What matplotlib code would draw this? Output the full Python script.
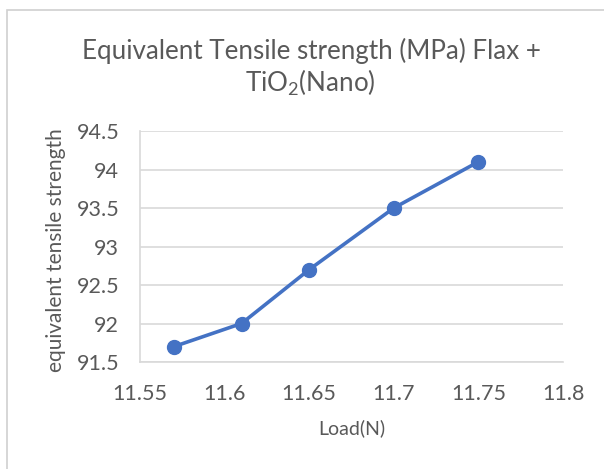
import matplotlib
matplotlib.use("Agg")
import matplotlib.pyplot as plt
from matplotlib.patches import Rectangle

# Data
load_n = [11.57, 11.61, 11.65, 11.70, 11.75]
strength = [91.7, 92.0, 92.7, 93.5, 94.1]
x_ticks = [11.55, 11.6, 11.65, 11.7, 11.75, 11.8]
x_tick_labels = ["11.55", "11.6", "11.65", "11.7", "11.75", "11.8"]
y_ticks = [91.5, 92, 92.5, 93, 93.5, 94, 94.5]
y_tick_labels = ["91.5", "92", "92.5", "93", "93.5", "94", "94.5"]

W, H = 604, 469
FONT = ["Lato", "DejaVu Sans"]
TEXT_GRAY = "#595959"
GRID_GRAY = "#d9d9d9"
BLUE = "#4472C4"

fig = plt.figure(figsize=(W / 100, H / 100), dpi=100)
fig.patch.set_facecolor("white")

def fx(px):
    return px / W

def fy(py):
    return 1 - py / H

# Chart area border
fig.patches.append(Rectangle((fx(7), fy(520)), fx(700), fy(10) - fy(520),
                             transform=fig.transFigure, fill=False,
                             edgecolor="#d0d0d0", linewidth=1.2))

# Clipped caption line above the chart
fig.text(fx(62), fy(-6), "(Flax + TiO2 Epoxy),", family=["Liberation Serif"],
         fontweight="bold", fontsize=14, color="black", va="baseline", ha="left")

ax = fig.add_axes([fx(140), fy(362), fx(563) - fx(140), fy(131) - fy(362)])
ax.plot(load_n, strength, color=BLUE, linewidth=2.6, marker="o",
        markersize=10, markerfacecolor=BLUE, markeredgecolor=BLUE,
        solid_capstyle="round", clip_on=False, zorder=3)

ax.set_xlim(x_ticks[0], x_ticks[-1])
ax.set_ylim(y_ticks[0], y_ticks[-1])
ax.set_xticks(x_ticks)
ax.set_xticklabels(x_tick_labels)
ax.set_yticks(y_ticks)
ax.set_yticklabels(y_tick_labels)
ax.tick_params(axis="both", length=0, labelsize=15.5, labelcolor=TEXT_GRAY)
ax.tick_params(axis="x", pad=16)
ax.tick_params(axis="y", pad=15)
for lab in ax.get_xticklabels() + ax.get_yticklabels():
    lab.set_family(FONT)

ax.grid(axis="y", color=GRID_GRAY, linewidth=1.2)
ax.set_axisbelow(True)
for side in ("top", "right"):
    ax.spines[side].set_visible(False)
for side in ("left", "bottom"):
    ax.spines[side].set_color(GRID_GRAY)
    ax.spines[side].set_linewidth(1.2)

# Axis titles
fig.text(fx(352), fy(428), "Load(N)", family=FONT, fontsize=14,
         color=TEXT_GRAY, ha="center", va="center")
fig.text(fx(56), fy(250), "equivalent tensile strength", family=FONT,
         fontsize=15, color=TEXT_GRAY, ha="center", va="center", rotation=90)

# Chart title
fig.text(fx(311), fy(51), "Equivalent Tensile strength (MPa) Flax +",
         family=FONT, fontsize=18.7, color=TEXT_GRAY, ha="center", va="center")
fig.text(fx(310), fy(83), r"TiO$_{\mathregular{2}}$(Nano)",
         family=FONT, fontsize=18.7, color=TEXT_GRAY, ha="center", va="center")

fig.savefig("out.png", dpi=100, facecolor="white")
